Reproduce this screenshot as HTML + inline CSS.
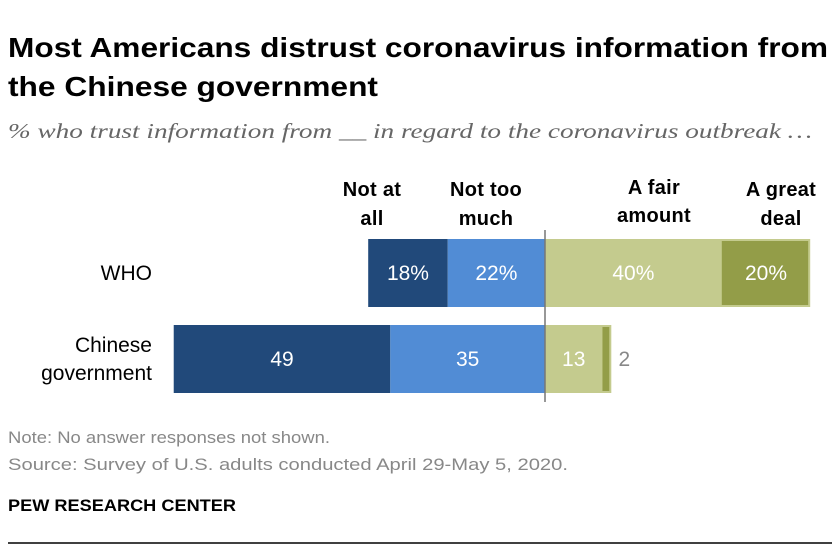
<!DOCTYPE html>
<html><head><meta charset="utf-8"><style>
body{margin:0;background:#fff;width:840px;height:548px;overflow:hidden;font-family:"Liberation Sans",sans-serif}
</style></head><body>
<svg width="840" height="548">
<text x="8" y="57" font-size="28" font-weight="bold" fill="#000" textLength="820" lengthAdjust="spacingAndGlyphs">Most Americans distrust coronavirus information from</text>
<text x="8" y="96" font-size="28" font-weight="bold" fill="#000" textLength="370" lengthAdjust="spacingAndGlyphs">the Chinese government</text>
<text x="8" y="138" font-size="21" font-style="italic" fill="#666" font-family="Liberation Serif, serif" textLength="804" lengthAdjust="spacingAndGlyphs">% who trust information from __ in regard to the coronavirus outbreak …</text>
<g id="bars"></g>
<text x="8" y="443" font-size="17" fill="#888" textLength="322" lengthAdjust="spacingAndGlyphs">Note: No answer responses not shown.</text>
<text x="8" y="470" font-size="17" fill="#888" textLength="560" lengthAdjust="spacingAndGlyphs">Source: Survey of U.S. adults conducted April 29-May 5, 2020.</text>
<text x="8" y="511" font-size="17" font-weight="bold" fill="#000" textLength="228" lengthAdjust="spacingAndGlyphs">PEW RESEARCH CENTER</text>
<line x1="8" y1="543" x2="832" y2="543" stroke="#000" stroke-width="1.5"/>
</svg>
<script>
const categories=["WHO","Chinese government"];
const notAtAll=[18,49];
const notTooMuch=[22,35];
const fairAmount=[40,13];
const greatDeal=[20,2];
const seriesNames=["Not at all","Not too much","A fair amount","A great deal"];
const NS="http://www.w3.org/2000/svg";
const g=document.getElementById("bars");
const cx=545,sc=4.42;
const x=v=>cx+v*sc;
const rowY=[239,325],bh=68;
function mk(t,a){const e=document.createElementNS(NS,t);for(const k in a)e.setAttribute(k,a[k]);g.appendChild(e);return e;}
function txt(x0,y0,s,a){const e=mk("text",Object.assign({x:x0,y:y0,"font-size":20,"text-anchor":"middle"},a));e.textContent=s;return e;}
const cols=["#21497a","#518cd5","#c4cb8e","#939d48"];
categories.forEach((c,i)=>{
  const y=rowY[i];const cy=y+bh/2+7;
  const lines=c==="WHO"?["WHO"]:["Chinese","government"];
  lines.forEach((l,j)=>{const t=txt(152,(lines.length===1?cy:cy-14+j*28),l,{"text-anchor":"end","font-size":21});
  
  });
  const suf=i===0?"%":"";
  const segs=[[-notAtAll[i]-notTooMuch[i],-notTooMuch[i],0],[-notTooMuch[i],0,1],[0,fairAmount[i],2],[fairAmount[i],fairAmount[i]+greatDeal[i],3]];
  const vals=[notAtAll[i],notTooMuch[i],fairAmount[i],greatDeal[i]];
  const bg=mk("rect",{x:x(0),y:y,width:x(fairAmount[i]+greatDeal[i])-x(0),height:bh,fill:cols[2]});
  
  
  segs.forEach(([a,b,k])=>{
    let r;
    if(k===3) r=mk("rect",{x:x(a),y:y+2,width:x(b)-x(a)-2,height:bh-4,fill:cols[3]});
    else r=mk("rect",{x:x(a),y:y,width:x(b)-x(a),height:bh,fill:cols[k]});
    
    
    const w=x(b)-x(a);
    let t;
    if(w>30) t=txt((x(a)+x(b))/2,cy,vals[k]+suf,{fill:"#fff","font-size":21});
    else t=txt(x(b)+13,cy,vals[k]+suf,{fill:"#888","font-size":21});
    
    
  });
});
const hdr=[["Not at","all"],["Not too","much"],["A fair","amount"],["A great","deal"]];
const hx=[372,486,654,781],hy=[[196,225],[196,225],[194,222],[196,225]];
hdr.forEach((ls,k)=>{ls.forEach((l,j)=>{
  const t=txt(hx[k],hy[k][j],l,{"font-weight":"bold","font-size":20,"letter-spacing":"0.3"});
  
  
});});
const ax=mk("line",{x1:cx,y1:230,x2:cx,y2:402,stroke:"#777","stroke-width":1.5});


</script>
</body></html>
